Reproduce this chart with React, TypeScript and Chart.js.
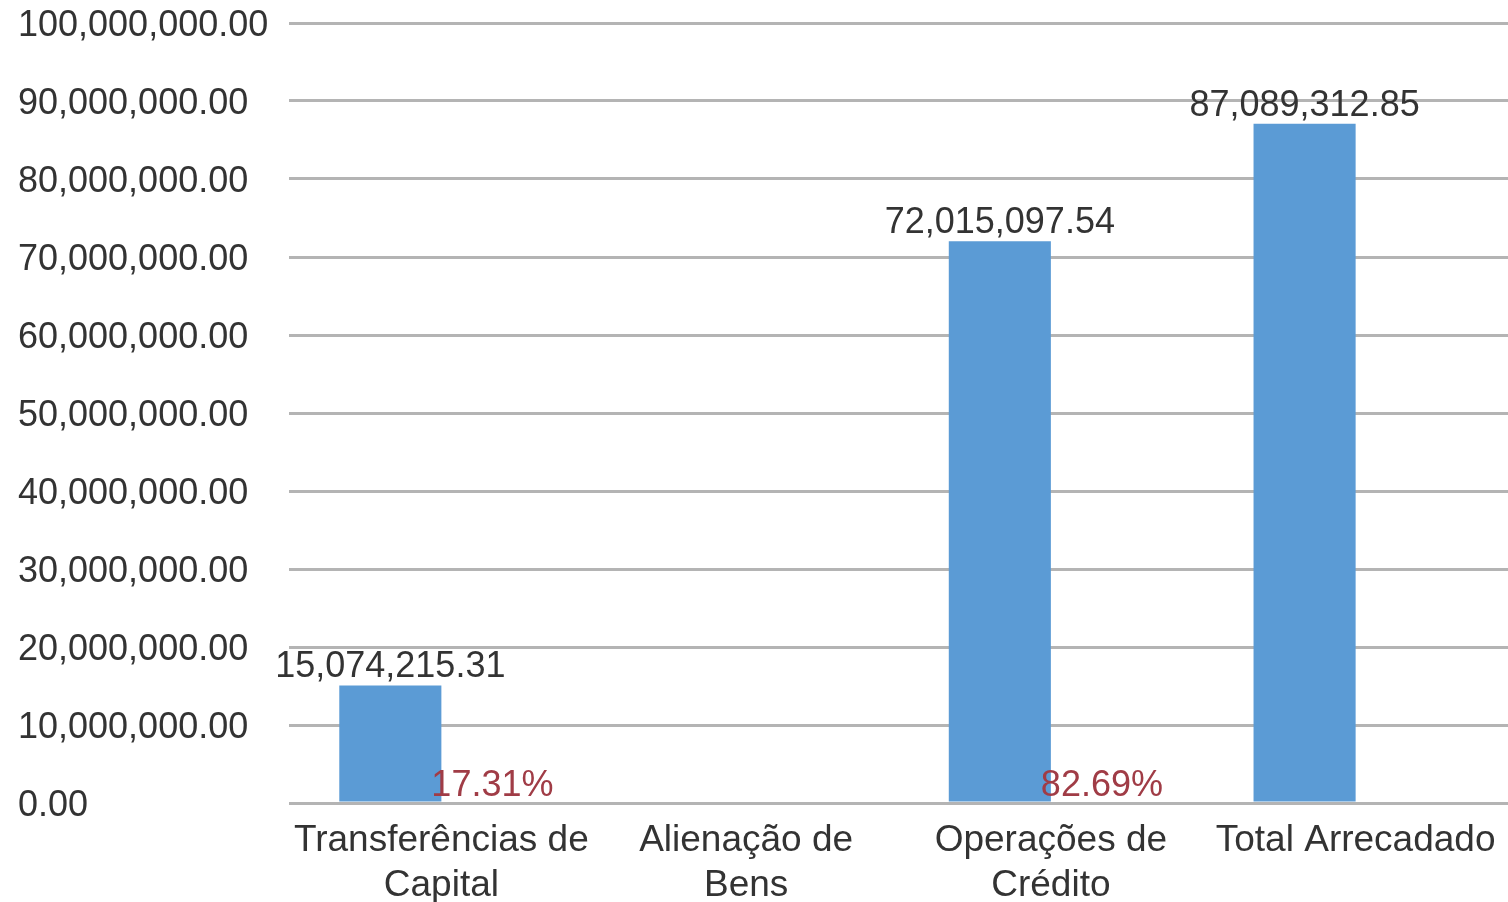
import React, { useEffect, useRef } from "react";
import { Chart, registerables } from "chart.js";

Chart.register(...registerables);

const categories: (string | string[])[] = [
  ["Transferências de", "Capital"],
  ["Alienação de", "Bens"],
  ["Operações de", "Crédito"],
  "Total Arrecadado",
];
const amounts: number[] = [15074215.31, 0, 72015097.54, 87089312.85];
const shares: (number | null)[] = [17.31, null, 82.69, null];
const yMin = 0;
const yMax = 100000000;
const yStep = 10000000;

const fmt = (v: number) =>
  v.toLocaleString("en-US", { minimumFractionDigits: 2, maximumFractionDigits: 2 });

const FONT = "'Liberation Sans', Arial, sans-serif";
const TEXT = "#333333";

const labelPlugin = {
  id: "barLabels",
  afterDatasetsDraw(chart: any) {
    const ctx = chart.ctx;
    ctx.save();
    ctx.textAlign = "center";
    ctx.textBaseline = "alphabetic";
    const m0 = chart.getDatasetMeta(0);
    ctx.font = `36px ${FONT}`;
    ctx.fillStyle = TEXT;
    m0.data.forEach((bar: any, i: number) => {
      const v = amounts[i];
      if (!v) return;
      ctx.fillText(fmt(v), bar.x, bar.y - 8);
    });
    const m1 = chart.getDatasetMeta(1);
    ctx.fillStyle = "#a03c46";
    m1.data.forEach((bar: any, i: number) => {
      const v = shares[i];
      if (v == null) return;
      ctx.fillText(`${v.toFixed(2)}%`, bar.x, bar.base - 6);
    });
    ctx.restore();
  },
};

export default function App() {
  const ref = useRef<HTMLCanvasElement | null>(null);
  useEffect(() => {
    document.body.style.margin = "0";
    const canvas = ref.current!;
    const chart = new Chart(canvas, {
      type: "bar",
      data: {
        labels: categories as any,
        datasets: [
          {
            label: "Valor",
            data: amounts,
            backgroundColor: "#5b9bd5",
            borderWidth: 0,
          },
          {
            label: "%",
            data: shares as any,
            backgroundColor: "rgba(0,0,0,0)",
            borderWidth: 0,
          },
        ],
      },
      options: {
        responsive: false,
        animation: false,
        devicePixelRatio: 1,
        layout: { padding: { left: 18, top: 23, right: 0, bottom: 0 } },
        plugins: {
          legend: { display: false },
          tooltip: { enabled: false },
        },
        datasets: {
          bar: { categoryPercentage: 0.67, barPercentage: 1 },
        },
        scales: {
          x: {
            grid: { display: false, drawTicks: false },
            border: { display: false },
            ticks: {
              color: TEXT,
              font: { family: FONT, size: 37, lineHeight: 1.22 },
              padding: 15,
              maxRotation: 0,
              autoSkip: false,
            },
            afterFit: (s: any) => {
              s.height = 99;
              s.paddingLeft = 0;
              s.paddingRight = 0;
            },
          },
          y: {
            min: yMin,
            max: yMax,
            grid: { color: "#b4b4b4", lineWidth: 3, drawTicks: false },
            border: { display: false },
            ticks: {
              stepSize: yStep,
              color: TEXT,
              font: { family: FONT, size: 36 },
              crossAlign: "far",
              padding: 0,
              labelOffset: 3,
              callback: (v: any) => fmt(Number(v)),
            },
            afterFit: (s: any) => {
              s.width = 289 - 18;
            },
          },
        },
      },
      plugins: [labelPlugin],
    });
    return () => chart.destroy();
  }, []);
  return <canvas ref={ref} width={1508} height={902} style={{ display: "block" }} />;
}
